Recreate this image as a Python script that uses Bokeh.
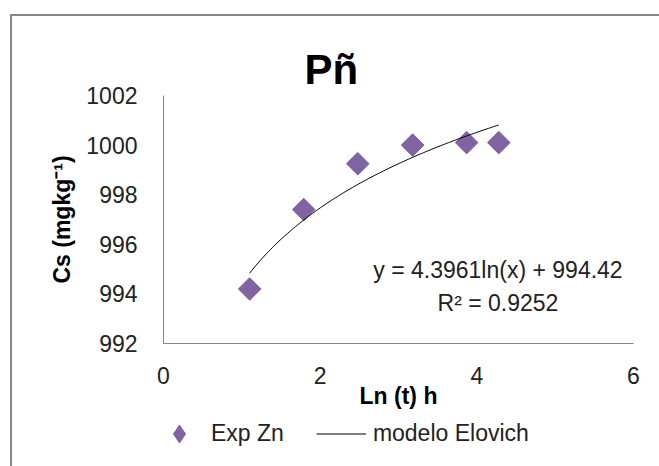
from bokeh.plotting import figure
from bokeh.layouts import column
from bokeh.models import Range1d, FixedTicker, Label, Legend, LegendItem
from bokeh.embed import file_html
from bokeh.resources import INLINE
import numpy as np

# Data
ln_t = [1.10, 1.79, 2.48, 3.18, 3.87, 4.28]
cs = [994.2, 997.4, 999.25, 1000.0, 1000.1, 1000.1]
# Elovich model (trendline shown on the chart): y = a ln(x) + b
coef_a = 4.3961
coef_b = 994.42
r2 = 0.9252
x_ticks = [0, 2, 4, 6]
y_ticks = [992, 994, 996, 998, 1000, 1002]
series_names = ["Exp Zn", "modelo Elovich"]

FONT = "Liberation Sans"
PURPLE = "#8064A2"
GRAY = "#868686"
FRAME = "#878787"

p = figure(width=659, height=415, output_backend="svg", toolbar_location=None,
           x_range=Range1d(0, 6), y_range=Range1d(992, 1002),
           min_border_left=163, min_border_right=26, min_border_top=95, min_border_bottom=72)
p.outline_line_color = None
p.xgrid.grid_line_color = None
p.ygrid.grid_line_color = None
p.background_fill_color = "white"
p.border_fill_alpha = 0
p.styles = {
    "background": (f"linear-gradient({FRAME},{FRAME}) 10px 14px / 2px 100% no-repeat, "
                   f"linear-gradient({FRAME},{FRAME}) 10px 14px / 100% 2px no-repeat, white"),
}

p.title.text = "Pñ"
p.title.text_font = FONT
p.title.text_font_size = "42px"
p.title.text_font_style = "bold"
p.title.text_color = "black"
p.title.align = "left"
p.title.offset = 141
p.title.standoff = 6

for ax in (p.xaxis[0], p.yaxis[0]):
    ax.axis_line_color = GRAY
    ax.axis_line_width = 1
    ax.major_tick_line_color = None
    ax.minor_tick_line_color = None
    ax.major_tick_out = 0
    ax.major_tick_in = 0
    ax.major_label_text_font = FONT
    ax.major_label_text_font_size = "23px"
    ax.major_label_text_color = "#222222"
    ax.axis_label_text_font = FONT
    ax.axis_label_text_font_size = "23px"
    ax.axis_label_text_font_style = "bold"
    ax.axis_label_text_color = "black"

p.xaxis[0].ticker = FixedTicker(ticks=x_ticks)
p.yaxis[0].ticker = FixedTicker(ticks=y_ticks)
p.xaxis[0].major_label_standoff = 23
p.yaxis[0].major_label_standoff = 26
p.xaxis[0].axis_label = "Ln (t) h"
p.yaxis[0].axis_label = "Cs (mgkg⁻¹)"
p.xaxis[0].axis_label_standoff = -4
p.yaxis[0].axis_label_standoff = 8

xs = np.linspace(ln_t[0] - 0.0014, ln_t[-1], 120)
ys = coef_a * np.log(xs) + coef_b

p.scatter(ln_t, cs, marker="square", angle=np.pi / 4, size=16,
          fill_color=PURPLE, line_color=PURPLE)
p.line(xs, ys, line_color="black", line_width=1)

p.add_layout(Label(x=4.27, y=994.98, text=f"y = {coef_a}ln(x) + {coef_b}",
                   text_align="center", text_baseline="middle",
                   text_font=FONT, text_font_size="23px", text_color="#222222"))
p.add_layout(Label(x=4.27, y=993.65, text=f"R² = {r2}",
                   text_align="center", text_baseline="middle",
                   text_font=FONT, text_font_size="23px", text_color="#222222"))

# Legend strip below the chart (its renderers sit outside the visible range)
q = figure(width=659, height=51, output_backend="svg", toolbar_location=None,
           x_range=Range1d(0, 1), y_range=Range1d(0, 1),
           x_axis_location=None, y_axis_location=None,
           min_border_left=0, min_border_right=0, min_border_top=0, min_border_bottom=0)
q.outline_line_color = None
q.xgrid.grid_line_color = None
q.ygrid.grid_line_color = None
q.background_fill_alpha = 0
q.border_fill_alpha = 0
q.styles = {
    "background": f"linear-gradient({FRAME},{FRAME}) 10px 0px / 2px 100% no-repeat, white",
}
lg_pts = q.scatter([-5], [-5], marker="diamond", fill_color=PURPLE, line_color=PURPLE)
lg_line = q.line([-5, -4], [-5, -5], line_color="black", line_width=1)

legend = Legend(items=[LegendItem(label=series_names[0], renderers=[lg_pts]),
                       LegendItem(label=series_names[1], renderers=[lg_line])],
                orientation="horizontal", location=(-9, 10),
                glyph_width=50, glyph_height=45, label_standoff=7, spacing=32,
                padding=0, margin=0, border_line_color=None, background_fill_alpha=0,
                label_text_font=FONT, label_text_font_size="23px", label_text_color="#222222")
q.add_layout(legend, "center")

layout = column(p, q, spacing=0)
open("out.html", "w").write(file_html(layout, INLINE))
